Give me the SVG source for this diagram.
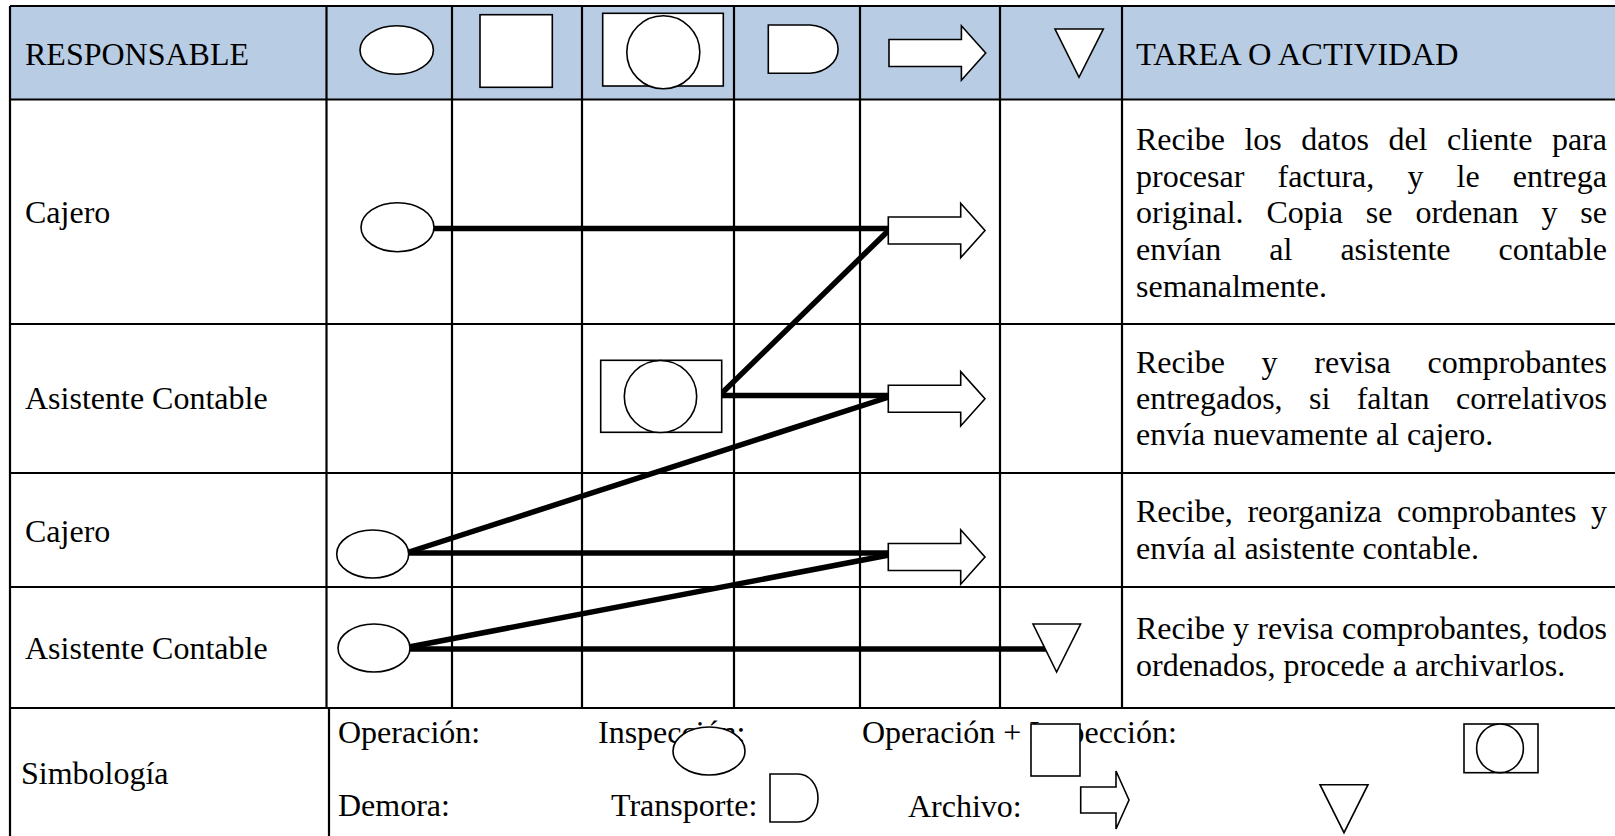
<svg xmlns="http://www.w3.org/2000/svg" width="1615" height="836" viewBox="0 0 1615 836">
  <style>
    text { font-family: "Liberation Serif", "Times New Roman", serif; font-size: 32px; fill: #000; }
    .legend { font-size: 32px; }
    .grid { stroke: #000; stroke-width: 2.2; fill: none; }
    .sym { fill: #fff; stroke: #000; stroke-width: 1.6; }
    .flow { stroke: #000; stroke-width: 5.5; fill: none; stroke-linecap: butt; }
  </style>
  <defs>
    <!-- block arrow (transport), origin at the tail, centred vertically -->
    <polygon id="blockArrow" class="sym" points="0,-13.5 72.4,-13.5 72.4,-27.2 96.7,0 72.4,27.2 72.4,13.5 0,13.5"/>
  </defs>

  <rect width="1615" height="836" fill="#fff"/>

  <!-- header band -->
  <rect x="10" y="6" width="1605" height="93.5" fill="#b8cce4"/>

  <!-- table grid -->
  <g id="grid" class="grid">
    <line x1="10" y1="6" x2="1615" y2="6"/>
    <line x1="10" y1="99.5" x2="1615" y2="99.5"/>
    <line x1="10" y1="324" x2="1615" y2="324"/>
    <line x1="10" y1="473" x2="1615" y2="473"/>
    <line x1="10" y1="587" x2="1615" y2="587"/>
    <line x1="10" y1="708" x2="1615" y2="708"/>
    <line x1="10" y1="6" x2="10" y2="836"/>
    <line x1="326.5" y1="6" x2="326.5" y2="708"/>
    <line x1="452" y1="6" x2="452" y2="708"/>
    <line x1="582" y1="6" x2="582" y2="708"/>
    <line x1="734" y1="6" x2="734" y2="708"/>
    <line x1="860" y1="6" x2="860" y2="708"/>
    <line x1="1000" y1="6" x2="1000" y2="708"/>
    <line x1="1122" y1="6" x2="1122" y2="708"/>
    <line x1="329" y1="708" x2="329" y2="836"/>
  </g>

  <!-- header row -->
  <g id="header">
    <text x="25" y="65">RESPONSABLE</text>
    <ellipse class="sym" cx="396.7" cy="50" rx="36.7" ry="24.3"/>
    <rect class="sym" x="480" y="14.7" width="72.3" height="72.6"/>
    <rect class="sym" x="602.7" y="13.3" width="120.6" height="72.7"/>
    <circle class="sym" cx="663.3" cy="52.3" r="36.5"/>
    <path class="sym" d="M768.3,25 H810 A30,24.2 0 0 1 810,73.3 H768.3 Z"/>
    <use href="#blockArrow" x="889" y="53"/>
    <polygon class="sym" points="1055,29 1103.3,29 1079,77.3"/>
    <text x="1136" y="65" style="font-size:32.5px">TAREA O ACTIVIDAD</text>
  </g>

  <!-- responsible for each step -->
  <g id="responsables">
    <text x="25" y="223">Cajero</text>
    <text x="25" y="408.5">Asistente Contable</text>
    <text x="25" y="541.5">Cajero</text>
    <text x="25" y="659">Asistente Contable</text>
  </g>

  <!-- task descriptions (justified) -->
  <g id="tareas">
    <text y="150"><tspan x="1136">Recibe</tspan><tspan x="1244.41">los</tspan><tspan x="1301.3">datos</tspan><tspan x="1388.4">del</tspan><tspan x="1447.05">cliente</tspan><tspan x="1551.91">para</tspan></text>
    <text y="186.5"><tspan x="1136">procesar</tspan><tspan x="1277.51">factura,</tspan><tspan x="1407.47">y</tspan><tspan x="1456.6">le</tspan><tspan x="1512.83">entrega</tspan></text>
    <text y="223"><tspan x="1136">original.</tspan><tspan x="1266.47">Copia</tspan><tspan x="1365.84">se</tspan><tspan x="1415.42">ordenan</tspan><tspan x="1541.41">y</tspan><tspan x="1580.33">se</tspan></text>
    <text y="260"><tspan x="1136">envían</tspan><tspan x="1269.3">al</tspan><tspan x="1340.39">asistente</tspan><tspan x="1498.59">contable</tspan></text>
    <text x="1136" y="297.2">semanalmente.</text>

    <text y="373.3"><tspan x="1136">Recibe</tspan><tspan x="1261.59">y</tspan><tspan x="1314.32">revisa</tspan><tspan x="1427.47">comprobantes</tspan></text>
    <text y="409"><tspan x="1136">entregados,</tspan><tspan x="1308.99">si</tspan><tspan x="1356.7">faltan</tspan><tspan x="1455.93">correlativos</tspan></text>
    <text x="1136" y="445">envía nuevamente al cajero.</text>

    <text y="522"><tspan x="1136">Recibe,</tspan><tspan x="1247.39">reorganiza</tspan><tspan x="1396.96">comprobantes</tspan><tspan x="1591.01">y</tspan></text>
    <text x="1136" y="558.7">envía al asistente contable.</text>

    <text y="638.7"><tspan x="1136">Recibe</tspan><tspan x="1233.08">y</tspan><tspan x="1257.29">revisa</tspan><tspan x="1341.93">comprobantes,</tspan><tspan x="1537.66">todos</tspan></text>
    <text x="1136" y="675.5">ordenados, procede a archivarlos.</text>
  </g>

  <!-- flow connectors -->
  <g id="connectors" class="flow">
    <line x1="433" y1="228.5" x2="889" y2="228.5"/>
    <line x1="889" y1="230" x2="721" y2="394"/>
    <line x1="721" y1="395.5" x2="889" y2="395.5"/>
    <line x1="889" y1="397" x2="409" y2="552"/>
    <line x1="409" y1="553" x2="889" y2="553"/>
    <line x1="889" y1="555" x2="409" y2="647"/>
    <line x1="409" y1="649" x2="1046" y2="649"/>
  </g>

  <!-- process steps -->
  <g id="paso1-operacion">
    <ellipse class="sym" cx="397.5" cy="227.2" rx="36.5" ry="24.5"/>
  </g>
  <g id="paso1-transporte">
    <use href="#blockArrow" x="888.3" y="230.5"/>
  </g>
  <g id="paso2-operacion-inspeccion">
    <rect class="sym" x="600.7" y="360.3" width="121" height="72"/>
    <ellipse class="sym" cx="660.5" cy="396.5" rx="36.2" ry="36"/>
  </g>
  <g id="paso2-transporte">
    <use href="#blockArrow" x="888.3" y="398.8"/>
  </g>
  <g id="paso3-operacion">
    <ellipse class="sym" cx="372.7" cy="554" rx="36" ry="24"/>
  </g>
  <g id="paso3-transporte">
    <use href="#blockArrow" x="888.3" y="557"/>
  </g>
  <g id="paso4-operacion">
    <ellipse class="sym" cx="374" cy="648" rx="36" ry="24"/>
  </g>
  <g id="paso4-archivo">
    <polygon class="sym" points="1033,624 1080.6,624 1056.6,672"/>
  </g>

  <!-- symbol legend -->
  <g id="simbologia">
    <text x="21" y="784">Simbología</text>
    <text class="legend" x="338" y="743">Operación:</text>
    <text class="legend" x="598" y="743">Inspección:</text>
    <text class="legend" x="862" y="743">Operación + Inspección:</text>
    <text class="legend" x="338" y="816">Demora:</text>
    <text class="legend" x="611" y="816">Transporte:</text>
    <text class="legend" x="908" y="817">Archivo:</text>
    <ellipse class="sym" cx="709" cy="751" rx="36" ry="24"/>
    <rect class="sym" x="1031" y="724" width="49" height="52"/>
    <rect class="sym" x="1464" y="724" width="74" height="48.7"/>
    <ellipse class="sym" cx="1500" cy="748.3" rx="23.4" ry="24.3"/>
    <path class="sym" d="M770,774 H798 A20,24 0 0 1 798,822 H770 Z"/>
    <polygon class="sym" points="1080.7,787 1116,787 1116,771 1129,800 1116,829 1116,813 1080.7,813"/>
    <polygon class="sym" points="1320,784.7 1368,784.7 1344,832.7"/>
  </g>
</svg>
